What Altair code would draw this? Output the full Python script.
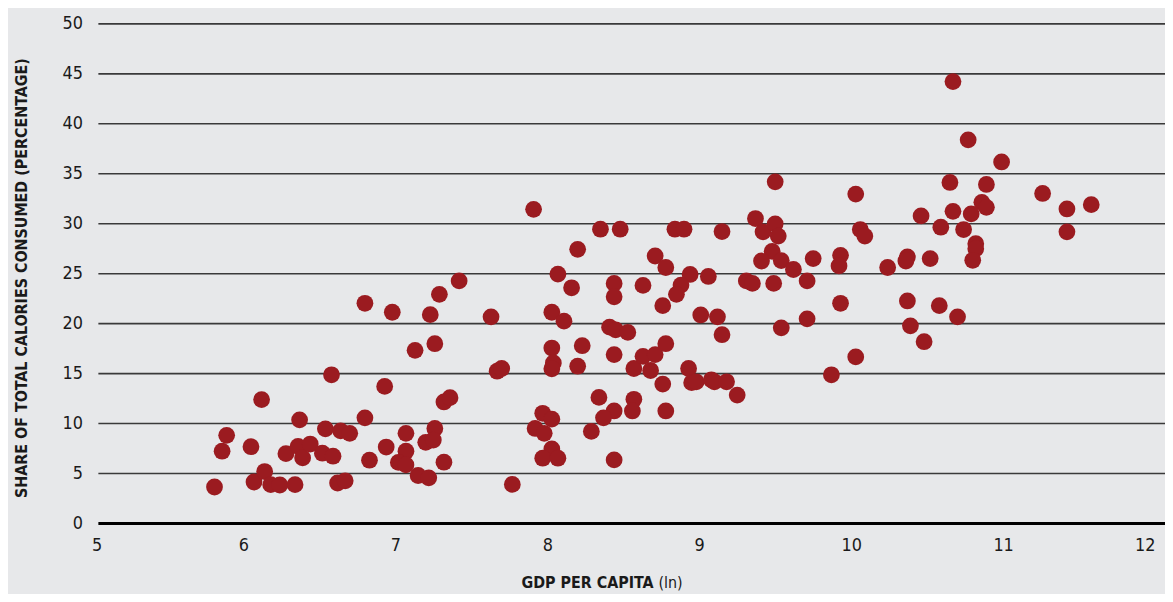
import altair as alt
import pandas as pd

# GDP per capita (ln) and share of total calories consumed (%)
gdp = [
    5.81, 5.86, 5.89, 6.05, 6.12, 6.07, 6.14, 6.18, 6.24, 6.34,
    6.28, 6.36, 6.39, 6.44, 6.37, 6.52, 6.54, 6.59, 6.58, 6.64,
    6.70, 6.62, 6.67, 6.80, 6.83, 6.93, 6.94, 7.07, 7.07, 7.02,
    7.07, 7.20, 7.26, 7.25, 7.15, 7.22, 7.32, 7.32, 7.36, 6.80,
    6.98, 7.23, 7.29, 7.42, 7.63, 7.13, 7.26, 7.67, 7.70, 7.91,
    8.35, 8.48, 8.84, 8.90, 8.20, 8.71, 8.78, 8.94, 8.88, 8.85,
    8.76, 9.01, 8.07, 8.16, 8.44, 8.44, 8.63, 8.03, 8.11, 8.41,
    8.45, 8.53, 8.03, 8.23, 8.04, 8.03, 8.20, 8.44, 8.57, 8.63,
    8.68, 8.71, 8.78, 8.76, 8.93, 8.95, 8.34, 8.57, 8.44, 8.56,
    8.37, 8.78, 8.29, 7.97, 8.03, 7.92, 7.98, 8.03, 7.97, 8.07,
    8.44, 7.77, 10.03, 9.15, 9.37, 9.42, 9.50, 9.52, 9.48, 9.41,
    9.54, 9.62, 9.75, 9.93, 9.92, 10.06, 10.09, 9.06, 9.31, 9.35,
    9.49, 9.71, 9.93, 9.12, 9.15, 9.54, 9.71, 8.98, 9.08, 9.10,
    9.18, 9.25, 9.87, 10.03, 10.67, 10.77, 10.99, 10.65, 10.89, 10.86,
    10.89, 11.26, 11.42, 11.58, 11.42, 10.46, 10.67, 10.79, 10.59, 10.74,
    10.82, 10.82, 10.80, 10.37, 10.36, 10.52, 10.24, 10.37, 10.58, 10.70,
    10.39, 10.48, 9.50,
]
share = [
    3.65, 7.23, 8.82, 7.68, 12.40, 4.15, 5.20, 3.88, 3.85, 3.88,
    6.99, 7.72, 6.56, 7.95, 10.37, 7.03, 9.47, 6.73, 14.88, 9.27,
    9.02, 4.05, 4.27, 10.57, 6.33, 13.72, 7.65, 9.02, 7.23, 6.11,
    5.86, 8.12, 9.51, 8.35, 4.80, 4.57, 6.13, 12.16, 12.59, 22.04,
    21.14, 20.90, 22.93, 24.28, 20.68, 17.33, 17.99, 15.24, 15.51, 31.44,
    29.45, 29.45, 29.45, 29.45, 27.44, 26.77, 25.62, 24.92, 23.86, 22.93,
    21.80, 20.87, 24.95, 23.59, 24.03, 22.69, 23.83, 21.14, 20.25, 19.65,
    19.38, 19.12, 17.56, 17.79, 16.07, 15.48, 15.74, 16.90, 15.51, 16.73,
    15.31, 16.90, 17.99, 13.95, 15.51, 14.09, 12.62, 12.43, 11.26, 11.26,
    10.57, 11.26, 9.21, 11.03, 10.44, 9.51, 9.02, 7.46, 6.53, 6.53,
    6.36, 3.91, 32.97, 29.22, 30.52, 29.19, 29.99, 28.76, 27.24, 26.27,
    26.31, 25.42, 26.51, 26.84, 25.78, 29.42, 28.76, 24.72, 24.28, 24.03,
    24.03, 24.28, 22.04, 20.68, 18.89, 19.58, 20.48, 14.18, 14.38, 14.18,
    14.18, 12.85, 14.88, 16.67, 44.23, 38.40, 36.18, 34.13, 33.93, 32.14,
    31.64, 33.03, 31.48, 31.91, 29.19, 30.78, 31.24, 30.98, 29.65, 29.42,
    28.00, 27.50, 26.34, 26.67, 26.27, 26.51, 25.62, 22.27, 21.80, 20.68,
    19.78, 18.19, 34.19,
]

x_ticks = [5, 6, 7, 8, 9, 10, 11, 12]
y_ticks = [0, 5, 10, 15, 20, 25, 30, 35, 40, 45, 50]

x_title_bold = "GDP PER CAPITA"
x_title_plain = "(ln)"
y_title = "SHARE OF TOTAL CALORIES CONSUMED (PERCENTAGE)"

FONT = "Liberation Sans Narrow, DejaVu Sans Condensed, sans-serif"
BG = "#e7e8ea"
RED = "#9b1b20"
INK = "#1a1a1a"

W, H = 1071, 503

df = pd.DataFrame({"gdp": gdp, "share": share})
grid_df = pd.DataFrame({"v": [v for v in y_ticks if v != 0]})
base_df = pd.DataFrame({"v": [0]})

xscale = alt.Scale(domain=[5, 12], nice=False, zero=False)
yscale = alt.Scale(domain=[0, 50], nice=False)

y_axis = alt.Axis(
    values=y_ticks, title=y_title, grid=False, domain=False, ticks=False,
    labelPadding=9, labelFontSize=18, labelFont=FONT, labelColor=INK,
    titleFont=FONT, titleFontSize=16, titleFontWeight="bold", titleColor=INK,
    titleX=-70, titleY=H / 2 + 4, titleAngle=270, titleAlign="center",
    titleBaseline="middle",
)
x_axis = alt.Axis(
    values=x_ticks, title=None, grid=False, domain=False, ticks=False,
    labelPadding=13, labelFontSize=18, labelFont=FONT, labelColor=INK,
)

grid = alt.Chart(grid_df).mark_rule(color="#3a3a3a", strokeWidth=1.6).encode(
    y=alt.Y("v:Q", scale=yscale, axis=y_axis),
    x=alt.value(7),
    x2=alt.value(W + 10),
)

base = alt.Chart(base_df).mark_rule(color="#000000", strokeWidth=3).encode(
    y=alt.Y("v:Q", scale=yscale, axis=y_axis),
    x=alt.value(7),
    x2=alt.value(W + 10),
)

points = alt.Chart(df).mark_circle(size=285, color=RED, opacity=1).encode(
    x=alt.X("gdp:Q", scale=xscale, axis=x_axis),
    y=alt.Y("share:Q", scale=yscale, axis=y_axis),
)

xt1 = alt.Chart(base_df).mark_text(
    font=FONT, fontSize=16, fontWeight="bold", align="right", baseline="middle",
    color=INK,
).encode(x=alt.value(566), y=alt.value(563), text=alt.value(x_title_bold))

xt2 = alt.Chart(base_df).mark_text(
    font=FONT, fontSize=16, fontWeight="normal", align="left", baseline="middle",
    color=INK,
).encode(x=alt.value(571), y=alt.value(563), text=alt.value(x_title_plain))

chart = (
    alt.layer(grid, base, points, xt1, xt2)
    .properties(
        width=W,
        height=H,
        background=BG,
        padding={"left": 84, "top": 14, "right": 10, "bottom": 69},
        autosize=alt.AutoSizeParams(type="none"),
    )
    .configure_view(stroke=None)
)

chart.save("out.html", embed_options={"renderer": "svg", "actions": False})
